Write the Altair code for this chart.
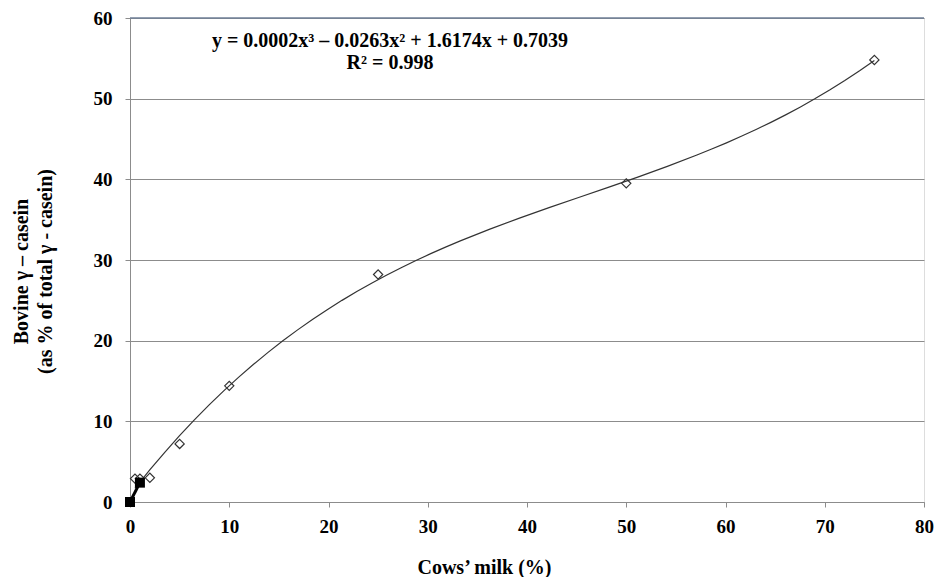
import altair as alt
import pandas as pd

# Data
cow_pct = [0.5, 1, 2, 5, 10, 25, 50, 75]
bovine_pct = [2.9, 2.9, 3.0, 7.2, 14.4, 28.2, 39.5, 54.8]
low_x = [0, 1]
low_y = [0, 2.4]
x_ticks = [0, 10, 20, 30, 40, 50, 60, 70, 80]
y_ticks = [0, 10, 20, 30, 40, 50, 60]
eq_line1 = "y = 0.0002x\u00b3 \u2013 0.0263x\u00b2 + 1.6174x + 0.7039"
eq_line2 = "R\u00b2 = 0.998"

FONT = "Liberation Serif"

pts = pd.DataFrame({"x": cow_pct, "y": bovine_pct})
low = pd.DataFrame({"x": low_x, "y": low_y})

xs = alt.Scale(domain=[0, 80], nice=False, zero=False)
ys = alt.Scale(domain=[0, 60], nice=False, zero=False)

x_axis = alt.Axis(values=x_ticks, grid=False, tickSize=5, tickColor="#8c8c8c",
                  domainColor="#8c8c8c", labelFont=FONT, labelFontSize=19,
                  labelFontWeight="bold", labelColor="black", labelPadding=10,
                  labelFlush=False,
                  title="Cows\u2019 milk  (%)", titleFont=FONT, titleFontSize=20,
                  titleFontWeight="bold", titleColor="black", titleX=354, titleY=71,
                  titleBaseline="alphabetic")
y_axis = alt.Axis(values=y_ticks, grid=True, gridColor="#8c8c8c", tickSize=5,
                  tickColor="#8c8c8c", domainColor="#8c8c8c", labelFont=FONT,
                  labelFontSize=19, labelFontWeight="bold", labelColor="black",
                  labelPadding=13, labelFlush=False,
                  title=["Bovine \u03b3 \u2013 casein", "(as % of total \u03b3 - casein)"],
                  titleFont=FONT, titleFontSize=20, titleFontWeight="bold",
                  titleColor="black", titlePadding=38, titleLineHeight=24, titleY=253)

base = alt.Chart(pts)

curve = base.transform_regression("x", "y", method="poly", order=3).mark_line(
    color="#333333", strokeWidth=1.2
).encode(x=alt.X("x:Q", scale=xs, axis=x_axis), y=alt.Y("y:Q", scale=ys, axis=y_axis))

diamonds = base.mark_point(shape="diamond", size=85, color="#333333", strokeWidth=1.2,
                           filled=False, opacity=1).encode(
    x=alt.X("x:Q", scale=xs), y=alt.Y("y:Q", scale=ys))

low_line = alt.Chart(low).mark_line(color="black", strokeWidth=3).encode(
    x=alt.X("x:Q", scale=xs), y=alt.Y("y:Q", scale=ys))
low_pts = alt.Chart(low).mark_point(shape="square", size=100, filled=True, color="black",
                                    opacity=1).encode(
    x=alt.X("x:Q", scale=xs), y=alt.Y("y:Q", scale=ys))

top_rule = alt.Chart(pd.DataFrame({"y": [60]})).mark_rule(color="#6f7f97", strokeWidth=1.5).encode(
    y=alt.Y("y:Q", scale=ys))

eq1 = alt.Chart(pd.DataFrame({"t": [eq_line1]})).mark_text(
    font=FONT, fontSize=20, fontWeight="bold", color="black", align="center",
    baseline="alphabetic").encode(text="t:N", x=alt.value(260), y=alt.value(29))
eq2 = alt.Chart(pd.DataFrame({"t": [eq_line2]})).mark_text(
    font=FONT, fontSize=20, fontWeight="bold", color="black", align="center",
    baseline="alphabetic").encode(text="t:N", x=alt.value(260), y=alt.value(51))

chart = alt.layer(curve, top_rule, diamonds, low_line, low_pts, eq1, eq2).properties(
    width=794, height=484,
    autosize=alt.AutoSizeParams(type="none"),
    padding={"left": 122, "top": 10, "right": 10, "bottom": 75},
).configure_view(stroke=None).configure(background="white")

chart.save("out.html", embed_options={"renderer": "svg", "actions": False})
